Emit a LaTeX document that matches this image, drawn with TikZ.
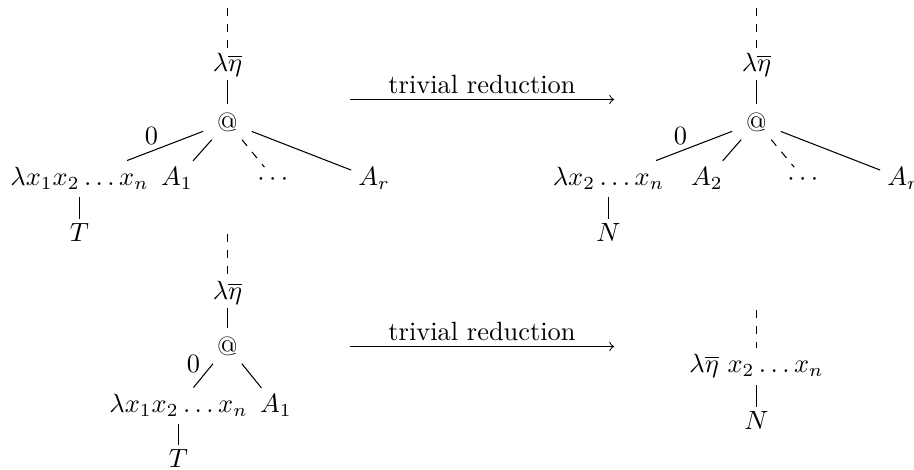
\documentclass[tikz,border=0pt]{standalone}
\usepackage{amssymb}
\usepackage{amsmath}
\usetikzlibrary{positioning,calc}

\begin{document}
\begin{tikzpicture}[
    x=0.379pt, y=-0.379pt,
    termnode/.style={anchor=base, inner sep=2.5pt},
    leafnode/.style={anchor=base, inner sep=1.5pt},
    etanode/.style={anchor=base, inner sep=1pt},
    appnode/.style={inner sep=0pt, minimum width=18pt, minimum height=13pt},
    edgelabel/.style={above left, inner sep=1pt, pos=0.55}, % label on the edge into the abstraction
    redlabel/.style={midway, above, inner sep=2pt}
]
\useasboundingbox (0,0) rectangle (914,470);

% --- Top left: before reduction ---
\coordinate (top1) at (227.5,8);
\node[etanode] (eta1) at (227.5,72) {$\lambda\overline{\eta}$};
\node[appnode] (app1) at (227.5,122) {@};
\node[termnode] (lam1) at (79.5,186) {$\lambda x_1x_2\ldots x_n$};
\node[termnode] (a1) at (177,186) {$A_1$};
\node[termnode] (dots1) at (275,186) {$\cdots$};
\node[termnode] (ar1) at (374,186) {$A_r$};
\node[leafnode] (t1) at (79.5,242) {$T$};

% --- Top right: after reduction ---
\coordinate (top2) at (756.5,8);
\node[etanode] (eta2) at (756.5,72) {$\lambda\overline{\eta}$};
\node[appnode] (app2) at (756.5,122) {@};
\node[termnode] (lam2) at (608.5,186) {$\lambda x_2\ldots x_n$};
\node[termnode] (a2) at (707,186) {$A_2$};
\node[termnode] (dots2) at (805,186) {$\cdots$};
\node[termnode] (ar2) at (903,186) {$A_r$};
\node[leafnode] (n2) at (608.5,242) {$N$};

% --- Bottom left: before reduction ---
\coordinate (top3) at (227.5,234);
\node[etanode] (eta3) at (227.5,300) {$\lambda\overline{\eta}$};
\node[appnode] (app3) at (227.5,346) {@};
\node[termnode] (lam3) at (178.5,413) {$\lambda x_1x_2\ldots x_n$};
\node[termnode] (a3) at (276,413) {$A_1$};
\node[leafnode] (t3) at (178.5,468) {$T$};

% --- Bottom right: after reduction ---
\coordinate (top4) at (756.5,310);
\node[termnode] (lam4) at (756.5,373) {$\lambda\overline{\eta}\ x_2\ldots x_n$};
\node[leafnode] (n4) at (756.5,430) {$N$};

% --- Reduction arrows ---
\coordinate (s1) at (350,99.5);
\coordinate (e1) at (614,99.5);
\coordinate (s2) at (350,346.5);
\coordinate (e2) at (614,346.5);
\draw[->] (s1) -- (e1) node[redlabel] {trivial reduction};
\draw[->] (s2) -- (e2) node[redlabel] {trivial reduction};

% --- Edges: spines ---
\foreach \t/\e/\a in {top1/eta1/app1, top2/eta2/app2, top3/eta3/app3}{
  \draw[dashed] (\t) -- (\e);
  \draw (\e) -- (\a);
}
\draw[dashed] (top4) -- (lam4);

% --- Edges: applications to arguments ---
\draw (app1) -- (lam1) node[edgelabel] {$0$};
\draw (app1) -- (a1);
\draw[dashed] (app1) -- (dots1);
\draw (app1) -- (ar1);
\draw (app2) -- (lam2) node[edgelabel] {$0$};
\draw (app2) -- (a2);
\draw[dashed] (app2) -- (dots2);
\draw (app2) -- (ar2);
\draw (app3) -- (lam3) node[edgelabel, pos=0.5] {$0$};
\draw (app3) -- (a3);

% --- Edges: bodies ---
\foreach \l/\b in {lam1/t1, lam2/n2, lam3/t3, lam4/n4}{
  \draw (\l) -- (\b);
}

\end{tikzpicture}
\end{document}
